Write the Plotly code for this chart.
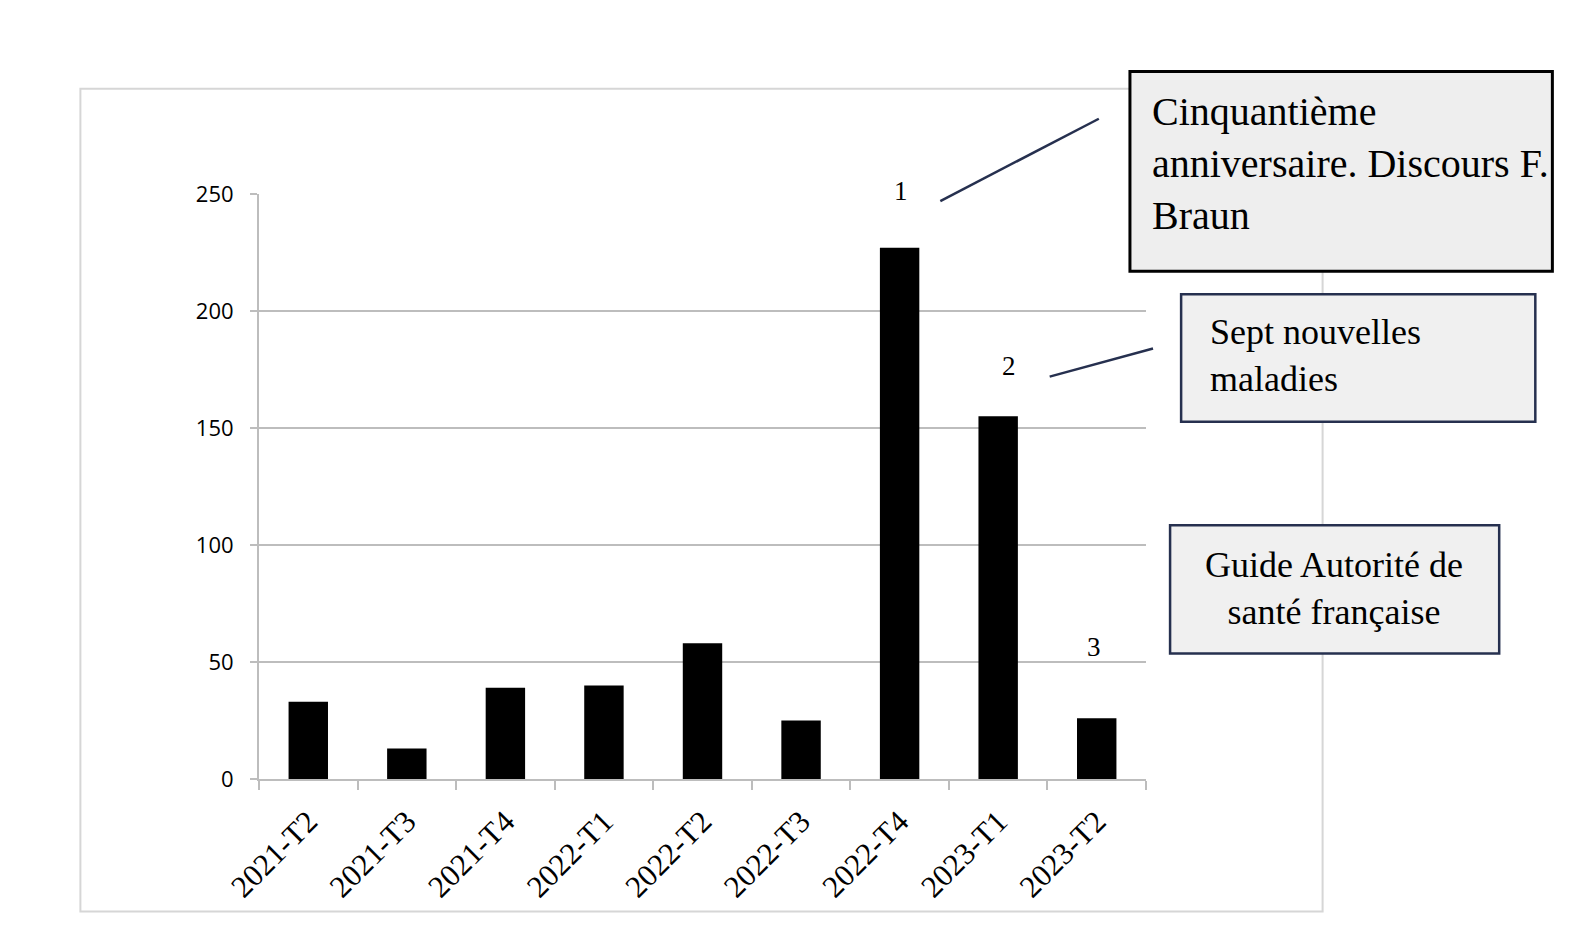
import plotly.graph_objects as go

# Données
trimestres = ["2021-T2", "2021-T3", "2021-T4", "2022-T1", "2022-T2",
              "2022-T3", "2022-T4", "2023-T1", "2023-T2"]
valeurs = [33, 13, 39, 40, 58, 25, 227, 155, 26]

reperes = ["1", "2", "3"]
reperes_x = ["2022-T4", "2023-T1", "2023-T2"]

textes_encadres = [
    "Cinquantième<br>anniversaire. Discours F.<br>Braun",
    "Sept nouvelles<br>maladies",
    "Guide Autorité de<br>santé française",
]

SX, SY = 1574 / 1568, 952 / 948
# la page ajoute une marge de 8 px autour de la figure
OFF = 8
W, H = 1574 - OFF, 952 - OFF
L, R, T, B = 258 * SX, 1142 * SX, 193 * SY, 776 * SY


def px(x):
    return (x * SX - L) / (R - L)


def py(y):
    return (B - y * SY) / (B - T)


SERIF = "Liberation Serif, Times New Roman, serif"
GRIS = "#bdbdbd"
MARINE = "#26304f"

fig = go.Figure(go.Bar(
    x=trimestres, y=valeurs,
    marker=dict(color="black", line=dict(width=0)),
    width=0.4,
))

shapes = [
    # cadre extérieur
    dict(type="rect", xref="paper", yref="paper",
         x0=px(80), x1=px(1318), y0=py(908), y1=py(88),
         line=dict(color="#d6d6d6", width=2), layer="below"),
    # traits de rappel
    dict(type="line", xref="paper", yref="paper",
         x0=px(937), y0=py(200), x1=px(1095), y1=py(118),
         line=dict(color=MARINE, width=2.5)),
    dict(type="line", xref="paper", yref="paper",
         x0=px(1046), y0=py(375), x1=px(1149), y1=py(347),
         line=dict(color=MARINE, width=2.5)),
    # encadrés
    dict(type="rect", xref="paper", yref="paper",
         x0=px(1126), x1=px(1547), y0=py(270), y1=py(71),
         fillcolor="#eeeeee", line=dict(color="black", width=3)),
    dict(type="rect", xref="paper", yref="paper",
         x0=px(1177), x1=px(1530), y0=py(420), y1=py(293),
         fillcolor="#f0f0f0", line=dict(color=MARINE, width=2.5)),
    dict(type="rect", xref="paper", yref="paper",
         x0=px(1166), x1=px(1494), y0=py(651), y1=py(523),
         fillcolor="#f0f0f0", line=dict(color=MARINE, width=2.5)),
]

reperes_py = [190, 364, 644]
reperes_dx = [1, 11, -3]
annotations = []
for r, rx, ry, dx in zip(reperes, reperes_x, reperes_py, reperes_dx):
    annotations.append(dict(
        x=rx, y=py(ry), xref="x", yref="paper", text=r, showarrow=False,
        xshift=dx, yanchor="middle",
        font=dict(family=SERIF, size=27, color="black"),
    ))

annotations += [
    dict(x=px(1146), y=py(163), xref="paper", yref="paper",
         text=textes_encadres[0], showarrow=False, xanchor="left",
         yanchor="middle", align="left",
         font=dict(family=SERIF, size=40, color="black")),
    dict(x=px(1204), y=py(354), xref="paper", yref="paper",
         text=textes_encadres[1], showarrow=False, xanchor="left",
         yanchor="middle", align="left",
         font=dict(family=SERIF, size=36, color="black")),
    dict(x=px(1329), y=py(586), xref="paper", yref="paper",
         text=textes_encadres[2], showarrow=False, xanchor="center",
         yanchor="middle", align="center",
         font=dict(family=SERIF, size=36, color="black")),
]

fig.update_layout(
    width=W, height=H,
    margin=dict(l=L - OFF, r=1574 - R, t=T - OFF, b=952 - B, pad=0),
    paper_bgcolor="white", plot_bgcolor="white",
    showlegend=False,
    bargap=0.6,
    shapes=shapes,
    annotations=annotations,
)

fig.update_xaxes(
    type="category",
    showline=True, linecolor=GRIS, linewidth=2,
    ticks="outside", tickson="boundaries", ticklen=9, tickcolor=GRIS, tickwidth=2,
    tickangle=-45, ticklabelstandoff=10,
    tickfont=dict(family=SERIF, size=31, color="black"),
    showgrid=False,
)
fig.update_yaxes(
    range=[0, 250], tickvals=[0, 50, 100, 150, 200, 250],
    showline=True, linecolor=GRIS, linewidth=2,
    ticks="outside", ticklen=7, tickcolor=GRIS, tickwidth=2,
    ticklabelstandoff=12,
    tickfont=dict(family="Open Sans, Liberation Sans, sans-serif", size=22, color="black"),
    showgrid=True, gridcolor=GRIS, gridwidth=2,
    zeroline=False,
)

fig.write_html("out.html")
